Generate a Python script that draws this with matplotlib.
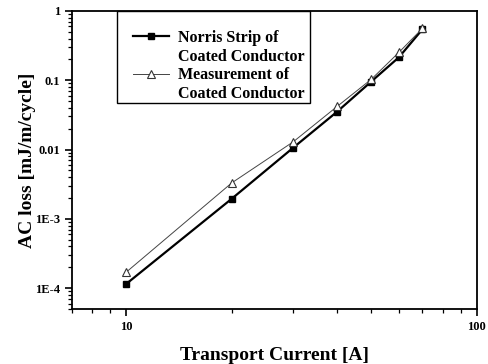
import matplotlib
matplotlib.use("Agg")
import matplotlib.pyplot as plt
from matplotlib.lines import Line2D
from matplotlib.patches import Rectangle
from matplotlib.ticker import FixedLocator, FixedFormatter, LogLocator, NullFormatter

current = [10, 20, 30, 40, 50, 60, 70]
norris = [1.15e-4, 1.95e-3, 0.0107, 0.0353, 0.0957, 0.215, 0.544]
measured = [1.7e-4, 3.3e-3, 0.013, 0.042, 0.103, 0.253, 0.56]
yticks = [1e-4, 1e-3, 1e-2, 1e-1, 1]
ytick_labels = ["1E-4", "1E-3", "0.01", "0.1", "1"]
xticks = [10, 100]
xtick_labels = ["10", "100"]
legend_lines = ["Norris Strip of", "Coated Conductor",
                "Measurement of", "Coated Conductor"]

plt.rcParams['font.family'] = ['Liberation Serif', 'DejaVu Serif']
fig = plt.figure(figsize=(4.89, 3.64), dpi=100)
ax = fig.add_axes([0.147, 0.151, 0.828, 0.819])

h1, = ax.plot(current, norris, color='black', lw=1.6, marker='s', ms=4.6,
              mfc='black', mec='black')
h2, = ax.plot(current, measured, color='#444444', lw=0.7, marker='^', ms=6,
              mfc='white', mec='#333333', mew=0.8)

ax.set_xscale('log')
ax.set_yscale('log')
ax.set_xlim(7, 100)
ax.set_ylim(5e-5, 1)

ax.yaxis.set_major_locator(FixedLocator(yticks))
ax.yaxis.set_major_formatter(FixedFormatter(ytick_labels))
ax.yaxis.set_minor_locator(LogLocator(base=10, subs=range(2, 10)))
ax.yaxis.set_minor_formatter(NullFormatter())
ax.xaxis.set_major_locator(FixedLocator(xticks))
ax.xaxis.set_major_formatter(FixedFormatter(xtick_labels))
ax.xaxis.set_minor_locator(LogLocator(base=10, subs=range(2, 10)))
ax.xaxis.set_minor_formatter(NullFormatter())

ax.tick_params(which='major', direction='out', length=5, width=1.2,
               labelsize=9)
ax.tick_params(which='minor', direction='out', length=3, width=0.9)
for lab in ax.get_xticklabels() + ax.get_yticklabels():
    lab.set_fontweight('bold')
for s in ax.spines.values():
    s.set_linewidth(1.3)

ax.set_xlabel('Transport Current [A]', fontsize=14, fontweight='bold', labelpad=10)
ax.set_ylabel('AC loss [mJ/m/cycle]', fontsize=14, fontweight='bold', labelpad=-1)

# legend frame
ax.add_patch(Rectangle((0.111, 0.691), 0.477, 0.309, transform=ax.transAxes,
                       facecolor='white', edgecolor='black', lw=1.0, zorder=4,
                       clip_on=False))
blank = Line2D([], [], color='none')
leg = ax.legend([h1, blank, h2, blank], legend_lines,
                loc='upper left', bbox_to_anchor=(0.151, 0.937), frameon=False,
                prop={'family': 'Liberation Serif', 'weight': 'bold', 'size': 11.5},
                handlelength=2.25, handletextpad=0.55, borderpad=0,
                labelspacing=0.18, borderaxespad=0)
leg.set_zorder(5)

fig.savefig('out.png', dpi=100)
